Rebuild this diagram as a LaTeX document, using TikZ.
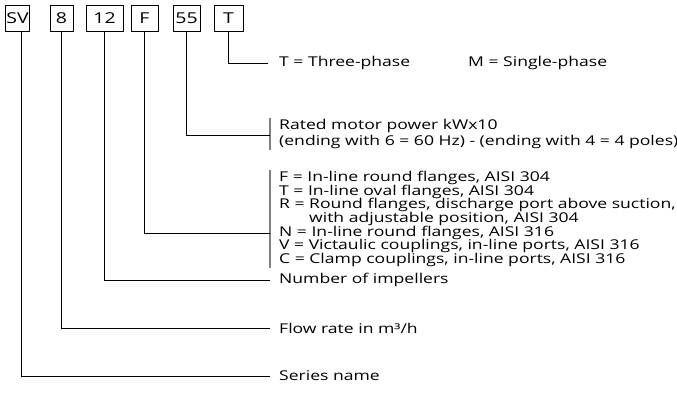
\documentclass[tikz,border=0pt]{standalone}
\usepackage{fontspec}
\setmainfont{Open Sans}[FakeStretch=1.3]
\usetikzlibrary{positioning}

\begin{document}
\begin{tikzpicture}[x=1pt, y=-1pt,
    codebox/.style={draw, line width=0.8pt, minimum height=26pt, inner sep=0pt,
      font=\fontsize{15}{17}\selectfont},
    legend/.style={anchor=west, inner xsep=9pt, inner ysep=1.5pt, align=left,
      font=\fontsize{13.5}{13.6}\selectfont},
    link/.style={line width=0.8pt},
    bar/.style={line width=1.6pt, black!50}]
    \useasboundingbox (0,0) rectangle (677,401);

    % code boxes
    \node[codebox, minimum width=24pt] (sv) at (17.5,18) {SV};
    \node[codebox, minimum width=23pt] (flow) at (61.5,18) {8};
    \node[codebox, minimum width=37pt] (imp) at (104.5,18) {12};
    \node[codebox, minimum width=27pt] (flange) at (144.5,18) {F};
    \node[codebox, minimum width=27pt] (power) at (186.5,18) {55};
    \node[codebox, minimum width=29pt] (phase) at (228.5,18) {T};

    % legends
    \node[legend] (phaselist) at (270,63) {T = Three-phase};
    \node[legend, right=198pt of phaselist.west, inner xsep=0pt] (phasealt) {M = Single-phase};
    \node[legend, font=\fontsize{13.5}{15.8}\selectfont] (powerlist) at (270,134) {Rated motor power kWx10\\
        (ending with 6 = 60 Hz) - (ending with 4 = 4 poles)};
    \node[legend] (flangelist) at (270,219) {F = In-line round flanges, AISI 304\\
        T = In-line oval flanges, AISI 304\\
        R = Round flanges, discharge port above suction,\\
        \phantom{R = }with adjustable position, AISI 304\\
        N = In-line round flanges, AISI 316\\
        V = Victaulic couplings, in-line ports, AISI 316\\
        C = Clamp couplings, in-line ports, AISI 316};
    \node[legend] (impellers) at (270,280) {Number of impellers};
    \node[legend] (flowrate) at (270,328) {Flow rate in m³/h};
    \node[legend] (series) at (270,376) {Series name};

    % brackets
    \draw[bar] (powerlist.north west) -- (powerlist.south west);
    \draw[bar] (flangelist.north west) -- (flangelist.south west);

    % connectors
    \draw[link] (phase.south) |- ([xshift=-2pt]phaselist.west);
    \draw[link] (power.south) |- ([yshift=-1pt]powerlist.west);
    \draw[link] (flange.south) |- ([yshift=-14pt]flangelist.west);
    \draw[link] (imp.south) |- (impellers.west);
    \draw[link] (flow.south) |- (flowrate.west);
    \draw[link] ([xshift=3.5pt]sv.south) |- (series.west);
\end{tikzpicture}
\end{document}
